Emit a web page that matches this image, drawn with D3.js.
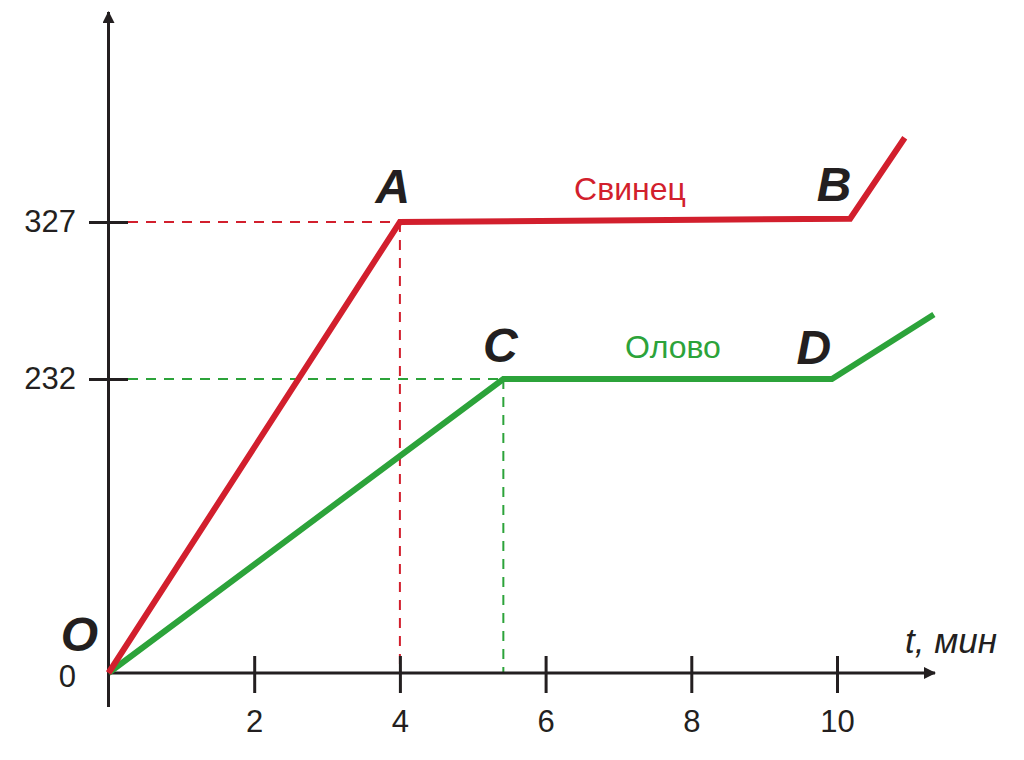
<!DOCTYPE html>
<html>
<head>
<meta charset="utf-8">
<script src="https://cdn.jsdelivr.net/npm/d3@7"></script>
<style>
  body { margin: 0; background: #fff; }
  svg { display: block; font-family: "Liberation Sans", Arial, sans-serif; }
</style>
</head>
<body>
<svg width="1024" height="760"></svg>
<script>
// time, min
var leadT = [0, 4, 10.18, 10.93];
var leadTemp = [0, 327, 329, 378];
var tinT = [0, 5.42, 9.93, 11.33];
var tinTemp = [0, 232, 232, 271];
var xTicks = [2, 4, 6, 8, 10];
var yTicks = [0, 232, 327];

var red = "#d21f2d", green = "#2ca33a", ink = "#231f20";

var svg = d3.select("svg");

var x = d3.scaleLinear().domain([0, 10]).range([108.5, 837]);
// the temperature axis is schematic, not proportional
var y = d3.scaleLinear().domain([0, 232, 327]).range([673, 379, 222]);

var defs = svg.append("defs");
defs.append("marker")
    .attr("id", "arrow")
    .attr("viewBox", "0 0 12 12")
    .attr("refX", 11).attr("refY", 6)
    .attr("markerWidth", 12).attr("markerHeight", 12)
    .attr("markerUnits", "userSpaceOnUse")
    .attr("orient", "auto")
    .append("path")
    .attr("d", "M0,0L12,6L0,12Z")
    .attr("fill", ink);

var lead = leadT.map(function (t, i) { return [t, leadTemp[i]]; });
var tin = tinT.map(function (t, i) { return [t, tinTemp[i]]; });

// dashed guides
var A = lead[1], C = tin[1];
svg.append("g").attr("fill", "none").attr("stroke-width", 2).attr("stroke-dasharray", "10,8")
    .selectAll("path")
    .data([
        {c: red, d: [[x(0) + 19.5, y(A[1])], [x(A[0]), y(A[1])]]},
        {c: red, d: [[x(A[0]), y(A[1])], [x(A[0]), y(0) - 8]]},
        {c: green, d: [[x(0) + 19.5, y(C[1])], [x(C[0]), y(C[1])]]},
        {c: green, d: [[x(C[0]), y(C[1])], [x(C[0]), y(0)]]}
    ])
    .enter().append("path")
    .attr("stroke", function (d) { return d.c; })
    .attr("d", function (d) { return d3.line()(d.d); });

// axes
var gx = svg.append("g")
    .attr("transform", "translate(0," + y(0) + ")")
    .call(d3.axisBottom(x).tickValues(xTicks).tickSize(20).tickPadding(17).tickFormat(d3.format("d")));
gx.select(".domain").remove();
gx.selectAll(".tick line").attr("y1", -17).attr("stroke", ink).attr("stroke-width", 3);
gx.selectAll(".tick text").attr("fill", ink).attr("font-size", 31);

var gy = svg.append("g")
    .attr("transform", "translate(" + x(0) + ",0)")
    .call(d3.axisLeft(y).tickValues(yTicks).tickSize(19.5).tickPadding(13));
gy.select(".domain").remove();
gy.selectAll(".tick line").attr("x2", -19.5).attr("x1", 19.5).attr("stroke", ink).attr("stroke-width", 3)
    .filter(function (d) { return d === 0; }).remove();
gy.selectAll(".tick text").attr("fill", ink).attr("font-size", 31);
gy.selectAll(".tick text").filter(function (d) { return d === 0; }).attr("dy", "0.42em");

svg.append("line")
    .attr("x1", x(0)).attr("y1", 707).attr("x2", x(0)).attr("y2", 12)
    .attr("stroke", ink).attr("stroke-width", 3).attr("marker-end", "url(#arrow)");
svg.append("line")
    .attr("x1", x(0) - 1.5).attr("y1", y(0)).attr("x2", 935).attr("y2", y(0))
    .attr("stroke", ink).attr("stroke-width", 3).attr("marker-end", "url(#arrow)");

// curves
var line = d3.line()
    .x(function (d) { return x(d[0]); })
    .y(function (d) { return y(d[1]); });

svg.selectAll(".curve")
    .data([{c: green, d: tin}, {c: red, d: lead}])
    .enter().append("path")
    .attr("class", "curve")
    .attr("fill", "none")
    .attr("stroke", function (d) { return d.c; })
    .attr("stroke-width", 6)
    .attr("stroke-linejoin", "miter")
    .attr("d", function (d) { return line(d.d); });

// point letters
var letters = [
    {t: "O", p: lead[0], dx: -29, dy: -22},
    {t: "A", p: lead[1], dx: -7, dy: -19},
    {t: "B", p: lead[2], dx: -16, dy: -18},
    {t: "C", p: tin[1], dx: -3, dy: -17},
    {t: "D", p: tin[2], dx: -18, dy: -15}
];
svg.selectAll(".pt")
    .data(letters)
    .enter().append("text")
    .attr("class", "pt")
    .attr("x", function (d) { return x(d.p[0]) + d.dx; })
    .attr("y", function (d) { return y(d.p[1]) + d.dy; })
    .attr("text-anchor", "middle")
    .attr("font-size", 48)
    .attr("font-weight", "bold")
    .attr("font-style", "italic")
    .attr("fill", ink)
    .text(function (d) { return d.t; });

// series names
svg.append("text")
    .attr("x", 630).attr("y", y(327) - 22)
    .attr("text-anchor", "middle").attr("font-size", 32).attr("fill", red)
    .text("Свинец");
svg.append("text")
    .attr("x", 673).attr("y", y(232) - 21)
    .attr("text-anchor", "middle").attr("font-size", 32).attr("fill", green)
    .text("Олово");

svg.append("text")
    .attr("x", 905).attr("y", 653)
    .attr("font-size", 35).attr("font-style", "italic").attr("fill", ink)
    .text("t, мин");
</script>
</body>
</html>
